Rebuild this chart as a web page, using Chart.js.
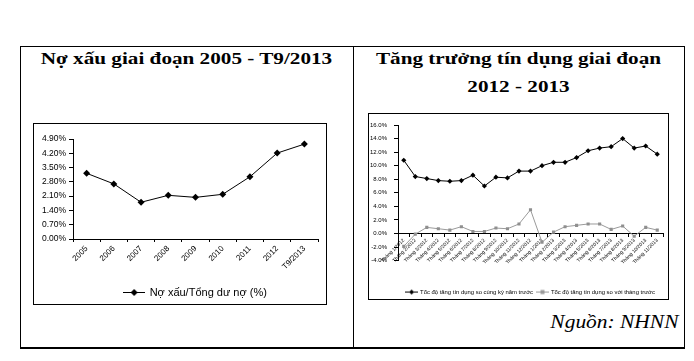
<!DOCTYPE html>
<html><head><meta charset="utf-8">
<script src="https://cdn.jsdelivr.net/npm/chart.js@4/dist/chart.umd.min.js"></script>
<style>
html,body{margin:0;padding:0;background:#fff;width:694px;height:361px;overflow:hidden;}
.ln{position:absolute;background:#000;}
.box{position:absolute;border:1px solid #000;box-sizing:border-box;pointer-events:none;}
.ttl{position:absolute;font-family:"Liberation Serif","Times New Roman",serif;font-weight:bold;font-size:17.5px;line-height:20px;white-space:nowrap;text-align:center;color:#000;transform:scaleX(1.21);transform-origin:center;}
.src{position:absolute;right:16px;top:311px;font-family:"Liberation Serif","Times New Roman",serif;font-style:italic;font-size:19.5px;line-height:22px;white-space:nowrap;color:#000;transform:scaleX(1.1);transform-origin:right;}
canvas{position:absolute;}
</style></head><body>
<div class="ln" style="left:20px;top:46px;width:665px;height:1px"></div>
<div class="ln" style="left:20px;top:347px;width:665px;height:2px"></div>
<div class="ln" style="left:20px;top:46px;width:1px;height:302px"></div>
<div class="ln" style="left:684px;top:46px;width:1px;height:302px"></div>
<div class="ln" style="left:353px;top:46px;width:1px;height:302px"></div>

<div class="ttl" style="left:20px;width:333px;top:47.5px">Nợ xấu giai đoạn 2005 - T9/2013</div>
<div class="ttl" style="left:353px;width:331px;top:48px">Tăng trưởng tín dụng giai đoạn</div>
<div class="ttl" style="left:353px;width:331px;top:76px">2012 - 2013</div>
<div class="src">Nguồn: NHNN</div>

<canvas id="c1" width="291" height="184" style="left:34px;top:124px;width:291px;height:184px"></canvas>
<canvas id="c2" width="298" height="191" style="left:369px;top:114px;width:298px;height:191px"></canvas>
<div class="box" style="left:33px;top:123px;width:294px;height:182px"></div>
<div class="box" style="left:368px;top:113px;width:301px;height:187px"></div>

<script>
// ---- Data ----
const years = ['2005','2006','2007','2008','2009','2010','2011','2012','T9/2013'];
const nplRatio = [3.22, 2.70, 1.80, 2.14, 2.04, 2.19, 3.05, 4.21, 4.65];
const leftYTicks = [0, 0.7, 1.4, 2.1, 2.8, 3.5, 4.2, 4.9];
const leftSeriesName = 'Nợ xấu/Tổng dư nợ (%)';

const months = ['Tháng 1/2012','Tháng 2/2012','Tháng 3/2012','Tháng 4/2012','Tháng 5/2012','Tháng 6/2012',
  'Tháng 7/2012','Tháng 8/2012','Tháng 9/2012','Tháng 10/2012','Tháng 11/2012','Tháng 12/2012',
  'Tháng 1/2013','Tháng 2/2013','Tháng 3/2013','Tháng 4/2013','Tháng 5/2013','Tháng 6/2013',
  'Tháng 7/2013','Tháng 8/2013','Tháng 9/2013','Tháng 10/2013','Tháng 11/2013'];
const yoyGrowth = [10.8, 8.4, 8.1, 7.8, 7.7, 7.8, 8.6, 7.0, 8.3, 8.2, 9.2, 9.2,
  10.0, 10.5, 10.5, 11.2, 12.2, 12.6, 12.8, 14.0, 12.6, 12.9, 11.7];
const momGrowth = [-1.9, -0.1, 0.9, 0.7, 0.5, 1.0, 0.3, 0.3, 0.8, 0.7, 1.4, 3.5,
  -1.3, 0.2, 1.0, 1.2, 1.4, 1.4, 0.6, 1.1, -0.4, 0.9, 0.5];
const rightYTicks = [-4, -2, 0, 2, 4, 6, 8, 10, 12, 14, 16];
const rightSeriesNames = ['Tốc độ tăng tín dụng so cùng kỳ năm trước', 'Tốc độ tăng tín dụng so với tháng trước'];

// ---- Style helpers ----
Chart.defaults.font.family = '"Liberation Sans", Arial, sans-serif';
Chart.defaults.color = '#000';

function marker(w, h, color, shape, r) {
  const c = document.createElement('canvas');
  c.width = w; c.height = h;
  const g = c.getContext('2d');
  const cy = Math.floor(h / 2) + 0.5, cx = w / 2;
  g.strokeStyle = color; g.lineWidth = 1;
  g.beginPath(); g.moveTo(0, cy); g.lineTo(w, cy); g.stroke();
  g.fillStyle = color;
  if (shape === 'diamond') {
    g.beginPath(); g.moveTo(cx, cy - r); g.lineTo(cx + r, cy); g.lineTo(cx, cy + r); g.lineTo(cx - r, cy); g.closePath(); g.fill();
  } else {
    g.fillRect(cx - r, cy - r, 2 * r, 2 * r);
  }
  return c;
}
function legendWith(imgs) {
  return function (chart) {
    const items = Chart.defaults.plugins.legend.labels.generateLabels(chart);
    items.forEach(it => { it.pointStyle = imgs[it.datasetIndex]; });
    return items;
  };
}

// ---- Left chart ----
new Chart(document.getElementById('c1'), {
  type: 'line',
  data: {
    labels: years,
    datasets: [{
      label: leftSeriesName, data: nplRatio,
      borderColor: '#000', backgroundColor: '#000', borderWidth: 1,
      pointStyle: 'rectRot', pointRadius: 3.5, pointBorderWidth: 0, tension: 0
    }]
  },
  options: {
    responsive: false, animation: false, devicePixelRatio: 1,
    layout: { padding: { top: 15, right: 7, left: 0, bottom: 0 } },
    scales: {
      x: {
        offset: true,
        grid: { drawOnChartArea: false, tickLength: 3, offset: true, color: '#000' },
        border: { color: '#000', width: 1 },
        ticks: { minRotation: 45, maxRotation: 45, autoSkip: false, font: { size: 8 }, color: '#000', padding: 2 },
        afterFit(s) { s.height = 40; }
      },
      y: {
        min: 0, max: 4.9,
        afterBuildTicks(s) { s.ticks = leftYTicks.map(v => ({ value: v })); },
        grid: { drawOnChartArea: false, tickLength: 4, color: '#000' },
        border: { color: '#000', width: 1 },
        ticks: { callback: v => v.toFixed(2) + '%', font: { size: 8.5 }, color: '#000', padding: 3 },
        afterFit(s) { s.width = 39; }
      }
    },
    plugins: {
      tooltip: { enabled: false },
      legend: {
        position: 'bottom', fullSize: false,
        labels: {
          usePointStyle: true, pointStyleWidth: 20, padding: 8,
          font: { size: 11 }, color: '#000',
          generateLabels: legendWith([marker(22, 9, '#000', 'diamond', 3.5)])
        }
      }
    }
  }
});

// ---- Right chart ----
new Chart(document.getElementById('c2'), {
  type: 'line',
  data: {
    labels: months,
    datasets: [{
      label: rightSeriesNames[0], data: yoyGrowth,
      borderColor: '#000', backgroundColor: '#000', borderWidth: 1,
      pointStyle: 'rectRot', pointRadius: 2.6, pointBorderWidth: 0, tension: 0
    }, {
      label: rightSeriesNames[1], data: momGrowth,
      borderColor: '#9a9a9a', backgroundColor: '#8f8f8f', borderWidth: 1,
      pointStyle: 'rect', pointRadius: 2.2, pointBorderWidth: 0, tension: 0
    }]
  },
  options: {
    responsive: false, animation: false, devicePixelRatio: 1,
    layout: { padding: { top: 11, right: 4, left: 0, bottom: 0 } },
    scales: {
      x: {
        position: { y: 0 }, offset: true,
        grid: { drawOnChartArea: false, tickLength: 3, offset: true, color: '#000' },
        border: { color: '#000', width: 1 },
        ticks: { minRotation: 45, maxRotation: 45, autoSkip: false, font: { size: 5 }, color: '#000', padding: 1 }
      },
      y: {
        min: -4, max: 16,
        afterBuildTicks(s) { s.ticks = rightYTicks.map(v => ({ value: v })); },
        grid: { drawOnChartArea: false, tickLength: 4, color: '#000' },
        border: { color: '#000', width: 1 },
        ticks: { callback: v => v.toFixed(1) + '%', font: { size: 6 }, color: '#000', padding: 7 },
        afterFit(s) { s.width = 29; }
      }
    },
    plugins: {
      tooltip: { enabled: false },
      legend: {
        position: 'bottom', fullSize: false,
        title: { display: true, text: '', font: { size: 10 }, padding: { top: 12.5, bottom: 0 } },
        labels: {
          usePointStyle: true, pointStyleWidth: 11, padding: 4,
          font: { size: 5.9 }, color: '#000',
          generateLabels: legendWith([marker(13, 7, '#000', 'diamond', 2.5), marker(13, 7, '#9a9a9a', 'square', 2)])
        }
      }
    }
  }
});
</script>
</body></html>
